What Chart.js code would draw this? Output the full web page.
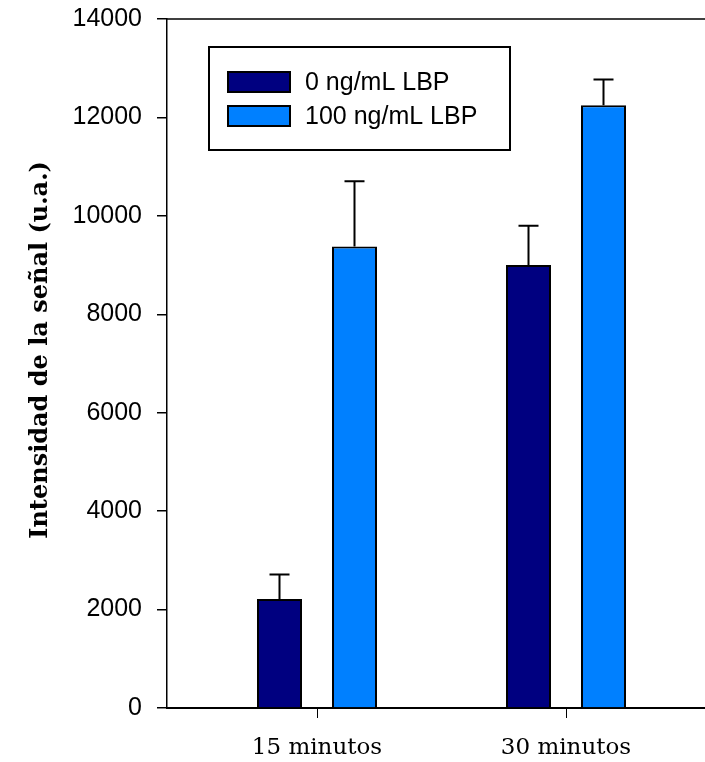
<!DOCTYPE html>
<html>
<head>
<meta charset="utf-8">
<script src="https://cdn.jsdelivr.net/npm/chart.js@4/dist/chart.umd.min.js"></script>
<style>
    html, body { margin: 0; padding: 0; background: #ffffff; overflow: hidden; }
    #chartCanvasId { display: block; }
</style>
</head>
<body>
<canvas id="chartCanvasId" width="705" height="762"></canvas>
<script>
"use strict";

// values
const categories = ["15 minutos", "30 minutos"];
const seriesLabels = ["0 ng/mL LBP", "100 ng/mL LBP"];
const lbp0 = [2215, 9000];
const lbp0Err = [500, 800];
const lbp100 = [9375, 12250];
const lbp100Err = [1330, 520];
const yTicks = [0, 2000, 4000, 6000, 8000, 10000, 12000, 14000];
const yTitle = "Intensidad de la señal (u.a.)";

const colors = ["#000080", "#0080ff"];

// error bars (upper side only), drawn from the bar elements themselves
const errorBarPlugin = {
    id: "errorBars",
    afterDatasetsDraw(chart) {
        const ctx = chart.ctx;
        const yScale = chart.scales.y;
        ctx.save();
        ctx.strokeStyle = "#000000";
        ctx.lineWidth = 2;
        chart.data.datasets.forEach((ds, di) => {
            const meta = chart.getDatasetMeta(di);
            meta.data.forEach((bar, i) => {
                const top = yScale.getPixelForValue(ds.data[i].y + ds.errors[i]);
                ctx.beginPath();
                ctx.moveTo(bar.x, bar.y);
                ctx.lineTo(bar.x, top);
                ctx.moveTo(bar.x - 10, top);
                ctx.lineTo(bar.x + 10, top);
                ctx.stroke();
            });
        });
        ctx.restore();
    },
};

// top frame line, boxed legend and rotated y title
const decorPlugin = {
    id: "decor",
    afterDraw(chart) {
        const ctx = chart.ctx;
        const area = chart.chartArea;
        ctx.save();

        ctx.strokeStyle = "#000000";
        ctx.lineWidth = 1.5;
        ctx.beginPath();
        ctx.moveTo(area.left, area.top);
        ctx.lineTo(area.right, area.top);
        ctx.stroke();

        // legend
        ctx.lineWidth = 2;
        ctx.strokeRect(209, 47, 301, 103);
        chart.data.datasets.forEach((ds, i) => {
            const y = 72 + i * 34;
            ctx.fillStyle = ds.backgroundColor;
            ctx.fillRect(228, y, 62, 20);
            ctx.strokeRect(228, y, 62, 20);
            ctx.fillStyle = "#000000";
            ctx.font = "25px 'Liberation Sans', Arial, sans-serif";
            ctx.textAlign = "left";
            ctx.textBaseline = "middle";
            ctx.fillText(ds.label, 305, y + 11);
        });

        // y title
        ctx.translate(41, 350);
        ctx.rotate(-Math.PI / 2);
        ctx.font = "bold 24px 'DejaVu Serif', serif";
        ctx.textAlign = "center";
        ctx.textBaseline = "middle";
        ctx.fillStyle = "#000000";
        ctx.fillText(yTitle, 0, 0);

        ctx.restore();
    },
};

function makeDataset(i, values, errors) {
    return {
        label: seriesLabels[i],
        data: values.map((v, k) => ({ x: k, y: v })),
        errors: errors,
        backgroundColor: colors[i],
        borderColor: "#000000",
        borderWidth: 2,
        categoryPercentage: 150 / 249,
        barPercentage: 0.6,
    };
}

const chartContext = document.getElementById("chartCanvasId").getContext("2d");

const myChart = new Chart(chartContext, {
    type: "bar",
    data: {
        datasets: [
            makeDataset(0, lbp0, lbp0Err),
            makeDataset(1, lbp100, lbp100Err),
        ],
    },
    options: {
        responsive: false,
        animation: false,
        layout: { padding: { top: 19, right: 0, bottom: 0, left: 0 } },
        plugins: {
            legend: { display: false },
            tooltip: { enabled: false },
        },
        scales: {
            x: {
                type: "linear",
                offset: false,
                min: -150 / 249,
                max: 1 + 139 / 249,
                afterBuildTicks: scale => {
                    scale.ticks = categories.map((c, i) => ({ value: i }));
                },
                afterFit: scale => {
                    scale.height = 54;
                    scale.paddingLeft = 0;
                    scale.paddingRight = 0;
                },
                ticks: {
                    callback: value => categories[value],
                    color: "#000000",
                    font: { family: "'DejaVu Serif', serif", size: 23 },
                    padding: 16,
                    maxRotation: 0,
                },
                grid: {
                    offset: false,
                    drawOnChartArea: false,
                    tickLength: 10,
                    color: "#000000",
                    lineWidth: 1,
                },
                border: { color: "#000000", width: 2 },
            },
            y: {
                min: 0,
                max: 14000,
                afterBuildTicks: scale => {
                    scale.ticks = yTicks.map(v => ({ value: v }));
                },
                afterFit: scale => {
                    scale.width = 167;
                    scale.paddingTop = 0;
                    scale.paddingBottom = 0;
                },
                ticks: {
                    callback: value => String(value),
                    color: "#000000",
                    font: { family: "'Liberation Sans', Arial, sans-serif", size: 25 },
                    padding: 15,
                },
                grid: {
                    drawOnChartArea: false,
                    tickLength: 10,
                    color: "#000000",
                    lineWidth: 1.5,
                },
                border: { color: "#000000", width: 1.5 },
            },
        },
    },
    plugins: [errorBarPlugin, decorPlugin],
});
</script>
</body>
</html>
